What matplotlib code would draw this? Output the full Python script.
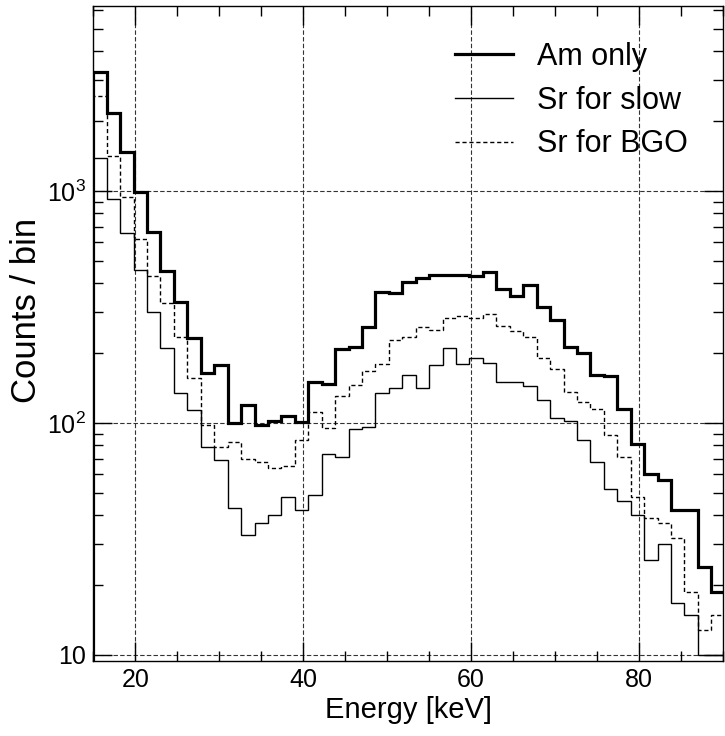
import numpy as np
import matplotlib
matplotlib.use('Agg')
import matplotlib.pyplot as plt
from matplotlib.ticker import MultipleLocator, LogLocator, FixedLocator, FixedFormatter, NullFormatter

plt.rcParams['font.family'] = ['Liberation Sans', 'DejaVu Sans']

# histogram binning (keV)
e_start = 15.0
bin_width = 1.6
n_bins = 47
edges = e_start + bin_width * np.arange(n_bins + 1)

# counts per bin
am_only = [3270, 2160, 1470, 990, 668, 453, 333, 232, 165, 178,
           100, 120, 98, 102, 107, 101, 150, 147, 208, 213,
           258, 366, 362, 404, 421, 435, 435, 435, 428, 449,
           377, 352, 394, 317, 278, 213, 201, 161, 159, 115,
           81, 60, 57, 42, 42, 24, 18.7]
sr_slow = [1390, 924, 660, 457, 302, 211, 135, 114, 79, 69,
           43, 33, 37, 40, 48, 42, 49, 73.5, 71, 94,
           96, 135, 141, 161, 142, 177, 210, 180, 190, 181,
           150, 150, 145, 126, 105, 102, 84.5, 68, 52, 46,
           40, 25.6, 30, 16.8, 14.9, 10, 10]
sr_bgo = [2577, 1415, 945, 620, 428, 328, 234, 156, 98, 79,
          83, 70, 68, 64, 65, 84.5, 112, 95.5, 131, 146,
          168, 179, 228, 234, 260, 252, 282, 290, 282, 294,
          262, 249, 234, 190, 171, 136, 123, 115, 89, 71,
          48, 39, 37, 32, 18.7, 12.8, 14.9]

labels = ['Am only', 'Sr for slow', 'Sr for BGO']
x_major = [20, 40, 60, 80]
y_major = [10, 100, 1000]
y_ticklabels = ['10', r'$\mathdefault{10^{2}}$', r'$\mathdefault{10^{3}}$']

fig = plt.figure(figsize=(7.25, 7.36), dpi=100)
ax = fig.add_axes([0.1287, 0.1019, 0.8686, 0.89])

ax.stairs(am_only, edges, color='black', lw=2.3, label=labels[0])
ax.stairs(sr_slow, edges, color='black', lw=1.0, label=labels[1])
ax.stairs(sr_bgo, edges, color='black', lw=1.0, ls=(0, (3, 2)), label=labels[2])

ax.set_yscale('log')
ax.set_xlim(15, 90)
ax.set_ylim(9.42, 6270)

# grid at major ticks
for xv in x_major:
    ax.axvline(xv, color='#333333', lw=0.8, ls=(0, (4, 2)), zorder=0)
for yv in y_major:
    ax.axhline(yv, color='#333333', lw=0.8, ls=(0, (4, 2)), zorder=0)

ax.xaxis.set_major_locator(FixedLocator(x_major))
ax.xaxis.set_minor_locator(MultipleLocator(5))
ax.yaxis.set_major_locator(FixedLocator(y_major))
ax.yaxis.set_major_formatter(FixedFormatter(y_ticklabels))
ax.yaxis.set_minor_locator(LogLocator(base=10, subs=np.arange(2, 10)))
ax.yaxis.set_minor_formatter(NullFormatter())

ax.tick_params(which='both', direction='in', top=True, right=True, width=1.0)
ax.tick_params(which='major', length=14, labelsize=18, pad=5)
ax.tick_params(which='minor', length=7.5)
for s in ax.spines.values():
    s.set_linewidth(1.0)

ax.set_xlabel('Energy [keV]', fontsize=21)
ax.set_ylabel('Counts / bin', fontsize=25)
ax.xaxis.set_label_coords(0.5, -0.053)
ax.yaxis.set_label_coords(-0.080, 0.535)

ax.legend(loc='upper left', bbox_to_anchor=(0.574, 0.945), frameon=False,
          fontsize=22, handlelength=1.9, handletextpad=0.78,
          labelspacing=0.45, borderpad=0, borderaxespad=0)

fig.savefig('out.png', dpi=100)
